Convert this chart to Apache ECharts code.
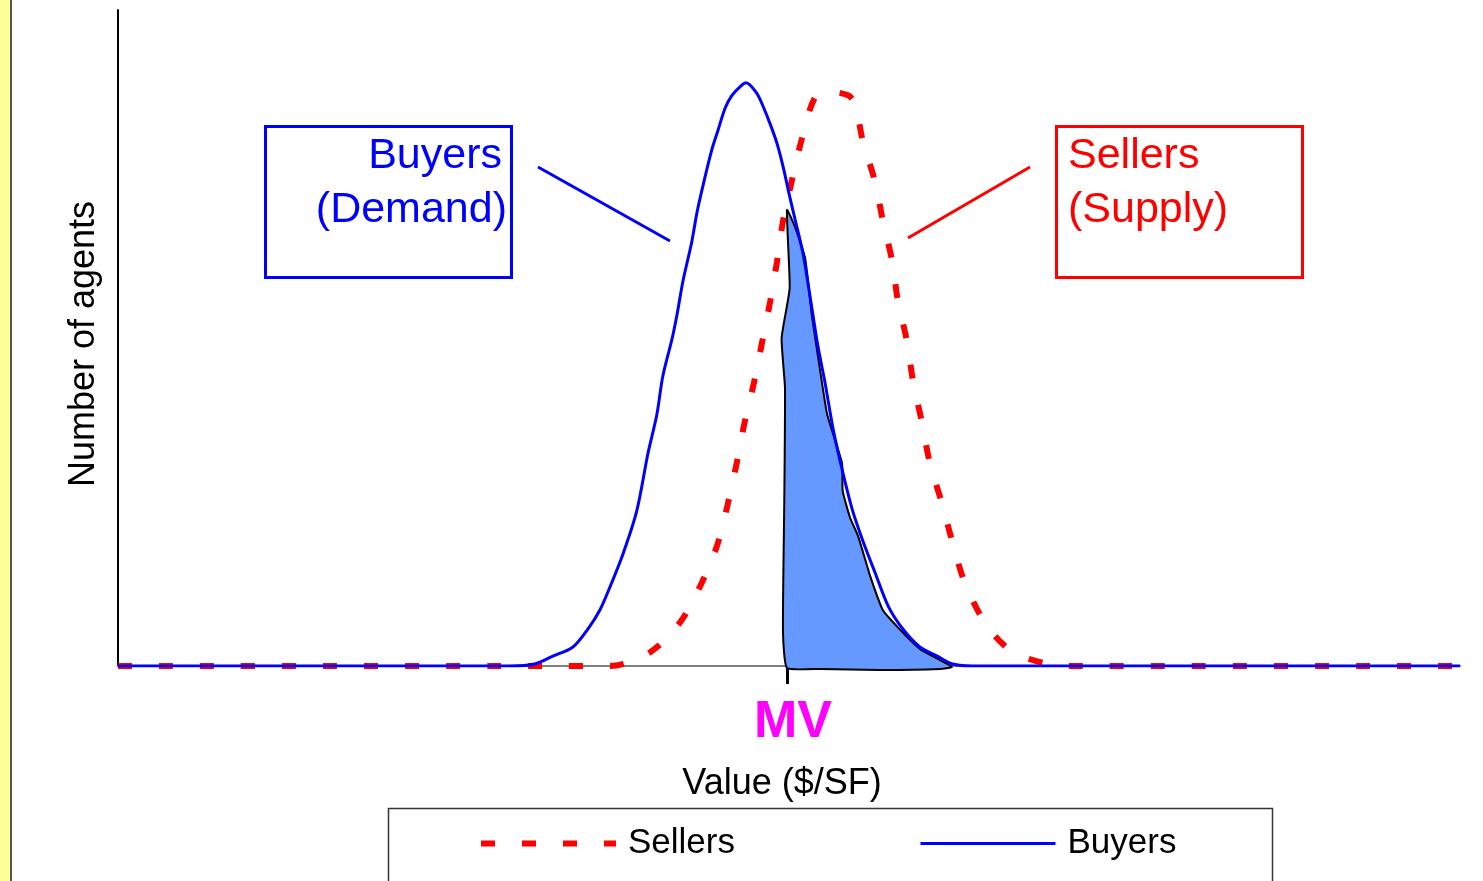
<!DOCTYPE html>
<html>
<head>
<meta charset="utf-8">
<title>Buyers and sellers around MV</title>
<script src="https://cdn.jsdelivr.net/npm/echarts@6/dist/echarts.min.js"></script>
<style>
  html, body { margin: 0; padding: 0; background: #fff; }
  #chart { width: 1483px; height: 881px; }
</style>
</head>
<body>
<div id="chart"></div>
<script>
// values (x: value $/SF, y: number of agents)
const buyersX = [0, 58.4, 62.1, 64.8, 67.8, 70.0, 71.8, 73.3, 75.3, 77.3, 79.0, 80.3, 81.2, 82.6, 83.3, 84.2, 85.5, 86.3, 87.2, 88.5, 89.4, 90.5, 91.5, 92.7, 93.6, 95.2, 96.1, 97.2, 98.2, 99.1, 100.1, 100.9, 102.1, 103.4, 104.3, 105.4, 106.6, 108.0, 109.5, 111.0, 112.8, 114.8, 117.0, 119.5, 122.1, 124.4, 127.4, 200];
const buyersY = [0, 0, 0.3, 1.5, 2.9, 5.6, 8.5, 12.0, 17.2, 23.6, 32.5, 38.3, 44.2, 50.0, 53.5, 58.7, 64.6, 69.2, 73.3, 78.7, 81.6, 85.1, 87.0, 88.3, 88.9, 87.3, 85.4, 82.6, 79.7, 76.2, 71.6, 68.1, 62.8, 54.6, 48.8, 43.0, 36.0, 29.6, 23.6, 19.1, 14.3, 9.1, 5.6, 2.9, 1.5, 0.3, 0, 0];

const sellersX = [0, 65.9, 73.3, 79.3, 83.8, 87.0, 89.3, 90.9, 92.2, 93.4, 94.8, 96.0, 97.2, 98.2, 99.1, 100.4, 101.9, 103.9, 106.1, 108.8, 109.8, 111.0, 112.8, 114.0, 115.4, 116.2, 117.6, 118.5, 119.8, 121.0, 122.8, 124.3, 126.2, 129.5, 133.4, 138.5, 141.1, 200];
const sellersY = [0, 0, 0, 2.1, 6.7, 12.7, 18.4, 24.8, 30.9, 37.2, 43.3, 49.4, 55.6, 61.6, 67.8, 73.9, 80.3, 86.7, 87.5, 87.0, 85.8, 80.0, 73.9, 67.8, 61.6, 55.8, 49.4, 43.3, 37.2, 30.9, 24.8, 19.1, 12.7, 6.1, 2.1, 0.3, 0, 0];

// shaded region: buyers above MV
const fillX = [99.7, 100.9, 102.4, 103.4, 104.6, 105.7, 107.9, 108.0, 109.1, 110.3, 112.1, 114.0, 116.5, 119.5, 122.5, 124.3, 122.5, 113.6, 104.6, 99.7, 99.1, 99.3, 99.4, 98.9, 100.1];
const fillY = [69.5, 66.9, 62.2, 53.5, 45.3, 38.3, 30.9, 26.7, 22.6, 19.8, 13.7, 8.5, 5.6, 2.6, 0.9, -0.15, -0.45, -0.6, -0.45, -0.3, 5.3, 25.3, 42.4, 50.0, 57.6];

const mvValue = 99.7;
const xMin = 0;
const xMax = 200;
const yMax = 100;

const font = '"Liberation Sans", Arial, sans-serif';

const zip = (xs, ys) => xs.map((x, i) => [x, ys[i]]);
const fillData = zip(fillX, fillY);

const chart = echarts.init(document.getElementById('chart'), null, { renderer: 'canvas' });

const option = {
  animation: false,
  backgroundColor: '#fff',
  grid: { left: 118, right: 23, top: 10, bottom: 215, containLabel: false },
  xAxis: {
    type: 'value',
    min: xMin,
    max: xMax,
    splitLine: { show: false },
    axisLine: { show: true, lineStyle: { color: '#808080', width: 2 } },
    axisTick: { show: true, customValues: [mvValue], length: 18, inside: false, lineStyle: { color: '#000', width: 3 } },
    axisLabel: {
      show: true,
      customValues: [mvValue],
      formatter: () => 'MV',
      margin: 31,
      padding: [0, 0, 0, 12],
      color: '#FF00FF',
      fontWeight: 'bold',
      fontSize: 52,
      fontFamily: font
    },
    name: 'Value ($/SF)',
    nameLocation: 'middle',
    nameGap: 100,
    nameTextStyle: { color: '#000', fontSize: 36, fontFamily: font, padding: [0, 14, 0, 0] }
  },
  yAxis: {
    type: 'value',
    min: 0,
    max: yMax,
    splitLine: { show: false },
    axisLine: { show: true, lineStyle: { color: '#000', width: 2 } },
    axisTick: { show: false },
    axisLabel: { show: false },
    name: 'Number of agents',
    nameLocation: 'middle',
    nameRotate: 90,
    nameGap: 16,
    nameTextStyle: { color: '#000', fontSize: 36, fontFamily: font, padding: [0, 12, 0, 0] }
  },
  legend: {
    left: 473,
    top: 821,
    itemWidth: 135,
    itemHeight: 12,
    itemGap: 184,
    itemStyle: { opacity: 0 },
    lineStyle: { width: 'inherit' },
    textStyle: { color: '#000', fontSize: 35, fontFamily: font, padding: [0, 0, 0, 7] },
    data: ['Sellers', 'Buyers']
  },
  series: [
    {
      name: 'Sellers',
      type: 'line',
      data: zip(sellersX, sellersY),
      showSymbol: false,
      symbol: 'none',
      smooth: 0.3,
      lineStyle: { color: '#FF0000', width: 6, type: [14, 27] },
      itemStyle: { color: '#FF0000' }
    },
    {
      name: 'Above MV',
      type: 'custom',
      data: fillData,
      renderItem: (params, api) => {
        if (params.dataIndex !== 0) return;
        const pts = fillData.map(p => api.coord(p));
        return {
          type: 'polygon',
          shape: { points: pts, smooth: 0.15 },
          style: { fill: '#6699FF', stroke: '#000', lineWidth: 2 }
        };
      }
    },
    {
      name: 'Buyers',
      type: 'line',
      data: zip(buyersX, buyersY),
      showSymbol: false,
      symbol: 'none',
      smooth: 0.3,
      lineStyle: { color: '#0000FF', width: 3 },
      itemStyle: { color: '#0000FF' }
    }
  ],
  graphic: [
    // yellow strip on the left edge
    { type: 'rect', left: 0, top: 0, shape: { width: 10, height: 881 }, style: { fill: '#FFFF99' } },
    { type: 'line', shape: { x1: 11, y1: 0, x2: 11, y2: 881 }, style: { stroke: '#555', lineWidth: 2 } },
    // legend frame
    { type: 'rect', shape: { x: 388.5, y: 808.5, width: 884, height: 120 }, style: { fill: 'none', stroke: '#333', lineWidth: 1.5 } },
    // buyers callout
    { type: 'rect', shape: { x: 265.5, y: 126.5, width: 246, height: 151 }, style: { fill: '#fff', stroke: '#0000FF', lineWidth: 3 } },
    { type: 'text', style: { x: 502, y: 156, text: 'Buyers', align: 'right', verticalAlign: 'middle', fill: '#0000FF', fontSize: 43, fontFamily: font } },
    { type: 'text', style: { x: 507, y: 210, text: '(Demand)', align: 'right', verticalAlign: 'middle', fill: '#0000FF', fontSize: 43, fontFamily: font } },
    { type: 'line', shape: { x1: 538, y1: 167, x2: 670, y2: 241 }, style: { stroke: '#0000FF', lineWidth: 3 } },
    // sellers callout
    { type: 'rect', shape: { x: 1056.5, y: 126.5, width: 246, height: 151 }, style: { fill: '#fff', stroke: '#FF0000', lineWidth: 3 } },
    { type: 'text', style: { x: 1068, y: 156, text: 'Sellers', align: 'left', verticalAlign: 'middle', fill: '#FF0000', fontSize: 43, fontFamily: font } },
    { type: 'text', style: { x: 1068, y: 210, text: '(Supply)', align: 'left', verticalAlign: 'middle', fill: '#FF0000', fontSize: 43, fontFamily: font } },
    { type: 'line', shape: { x1: 1030, y1: 167, x2: 908, y2: 238 }, style: { stroke: '#FF0000', lineWidth: 3 } }
  ]
};

chart.setOption(option);
</script>
</body>
</html>
